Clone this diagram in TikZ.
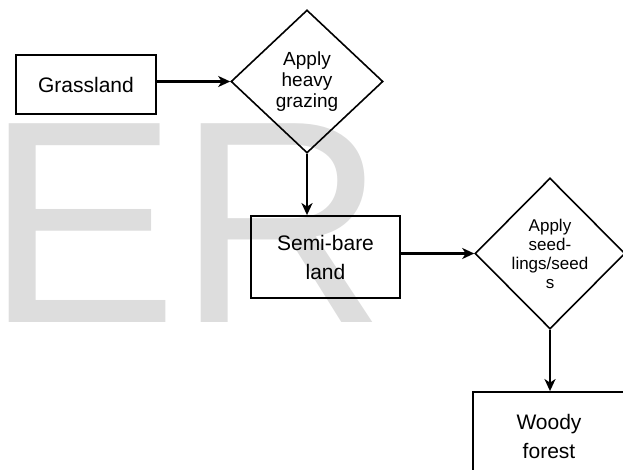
\documentclass[tikz,border=0pt]{standalone}
\usepackage{fontspec}
\setmainfont{Liberation Sans}
\usetikzlibrary{shapes.geometric,arrows.meta}
\definecolor{wmark}{HTML}{DDDDDD}
\begin{document}
\begin{tikzpicture}[x=1pt,y=-1pt,
  boxnode/.style={draw=black,line width=1.8pt,rectangle,inner sep=0pt,align=center,
     font=\fontsize{21}{29}\selectfont},
  decnode/.style={draw=black,line width=1.6pt,diamond,inner sep=0pt,align=center,
     shape aspect=1},
  flow/.style={line width=2.4pt,-{Stealth[length=12pt,width=11pt,inset=3.5pt]}}
]
\useasboundingbox (0,0) rectangle (623,470);
\clip (0,0) rectangle (623,470);
\node[anchor=base west,inner sep=0pt,text=wmark,font=\fontsize{289}{289}\selectfont] (wm) at (-15,322) {ER};
\node[boxnode,minimum width=140pt,minimum height=59pt] (grass) at (86,84.5) {Grassland};
\node[decnode,minimum width=152pt,minimum height=143pt,font=\fontsize{19}{21}\selectfont] (graze) at (307,81.5) {Apply\\heavy\\grazing};
\node[boxnode,minimum width=149pt,minimum height=82pt] (semi) at (325.5,257) {Semi-bare\\land};
\node[decnode,minimum width=150pt,minimum height=151pt,font=\fontsize{17}{19}\selectfont] (seed) at (550,253.5) {Apply\\seed-\\lings/seed\\s};
\node[boxnode,minimum width=152pt,minimum height=88pt] (woody) at (549,436) {Woody\\forest};
\draw[flow] (grass.east |- graze.west) -- (graze.west);
\draw[flow] (graze.south) -- (semi.north -| graze.south);
\draw[flow] (semi.east |- seed.west) -- (seed.west);
\draw[flow] (seed.south) -- (woody.north -| seed.south);
\end{tikzpicture}
\end{document}
